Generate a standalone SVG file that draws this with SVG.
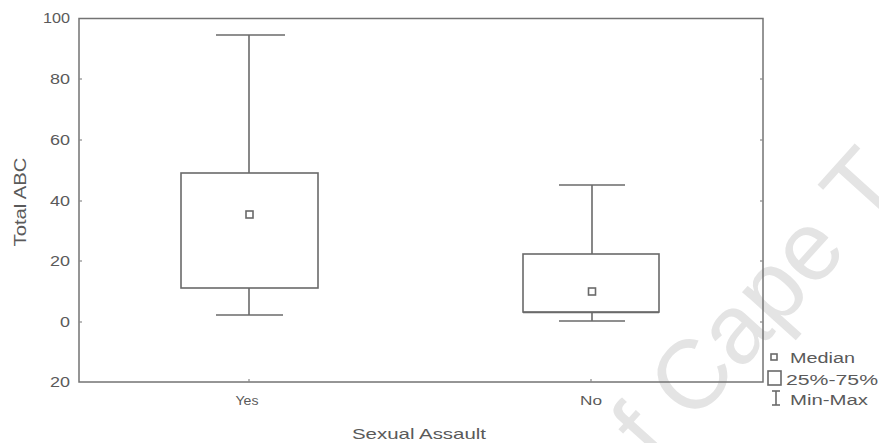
<svg xmlns="http://www.w3.org/2000/svg" width="879" height="443" viewBox="0 0 879 443">
<style>
.ln{stroke:#737373;stroke-width:1.5;fill:none}
.bx{stroke:#6a6a6a;stroke-width:1.6;fill:none}
.tk{stroke:#8a8a8a;stroke-width:1.2}
.t{font-family:"Liberation Sans",Arial,sans-serif;fill:#5a5a5a}
.wm{font-family:"Liberation Sans",Arial,sans-serif;fill:#e4e4e4;font-size:98px}
</style>
<rect width="879" height="443" fill="#ffffff"/>
<g id="watermark">
<text class="wm" transform="translate(656,465) rotate(-48)">f Cape T</text>
</g>
<g id="frame">
<rect class="ln" x="79" y="18.5" width="684" height="363.5"/>
</g>
<g id="axes">
<g class="tk">
<line x1="79" y1="79" x2="82" y2="79"/>
<line x1="79" y1="140" x2="82" y2="140"/>
<line x1="79" y1="201" x2="82" y2="201"/>
<line x1="79" y1="261" x2="82" y2="261"/>
<line x1="79" y1="322" x2="82" y2="322"/>
<line x1="763" y1="79" x2="760" y2="79"/>
<line x1="763" y1="140" x2="760" y2="140"/>
<line x1="763" y1="201" x2="760" y2="201"/>
<line x1="763" y1="261" x2="760" y2="261"/>
<line x1="763" y1="322" x2="760" y2="322"/>
<line x1="249" y1="382" x2="249" y2="379"/>
<line x1="591" y1="382" x2="591" y2="379"/>
</g>
<g class="t" font-size="14" text-anchor="end">
<text x="70" y="23" textLength="27" lengthAdjust="spacingAndGlyphs">100</text>
<text x="70" y="84" textLength="20" lengthAdjust="spacingAndGlyphs">80</text>
<text x="70" y="145" textLength="20" lengthAdjust="spacingAndGlyphs">60</text>
<text x="70" y="206" textLength="20" lengthAdjust="spacingAndGlyphs">40</text>
<text x="70" y="266" textLength="20" lengthAdjust="spacingAndGlyphs">20</text>
<text x="70" y="327" textLength="10" lengthAdjust="spacingAndGlyphs">0</text>
<text x="70" y="387" textLength="20" lengthAdjust="spacingAndGlyphs">20</text>
</g>
<g class="t" font-size="12" text-anchor="middle">
<text x="247" y="405" textLength="23" lengthAdjust="spacingAndGlyphs">Yes</text>
<text x="591" y="405" textLength="22" lengthAdjust="spacingAndGlyphs">No</text>
</g>
<text class="t" x="352" y="439" font-size="15" textLength="134" lengthAdjust="spacingAndGlyphs">Sexual Assault</text>
<text class="t" font-size="16" text-anchor="middle" transform="translate(26,202) rotate(-90)" textLength="89" lengthAdjust="spacingAndGlyphs">Total ABC</text>
</g>
<g id="box-yes">
<line class="bx" x1="249" y1="35" x2="249" y2="173"/>
<line class="bx" x1="216" y1="35" x2="285" y2="35"/>
<rect class="bx" x="181" y="173" width="137" height="115"/>
<line class="bx" x1="249" y1="288" x2="249" y2="315"/>
<line class="bx" x1="216" y1="315" x2="283" y2="315"/>
<rect class="bx" x="246" y="211" width="7" height="7" stroke-width="1.2"/>
</g>
<g id="box-no">
<line class="bx" x1="592" y1="185" x2="592" y2="254"/>
<line class="bx" x1="559" y1="185" x2="625" y2="185"/>
<rect class="bx" x="523" y="254" width="136" height="58"/>
<line class="bx" x1="523" y1="312.5" x2="659" y2="312.5" stroke-width="2"/>
<line class="bx" x1="592" y1="312" x2="592" y2="321"/>
<line class="bx" x1="559" y1="321" x2="625" y2="321"/>
<rect class="bx" x="588.5" y="288" width="7" height="7" stroke-width="1.2"/>
</g>
<g id="legend">
<rect class="bx" x="771" y="354" width="6" height="6" stroke-width="1.1"/>
<text class="t" x="790" y="363" font-size="14" textLength="65" lengthAdjust="spacingAndGlyphs">Median</text>
<rect class="bx" x="768" y="371" width="13" height="14" stroke-width="1.3"/>
<text class="t" x="786" y="385" font-size="14" textLength="92" lengthAdjust="spacingAndGlyphs">25%-75%</text>
<line class="bx" x1="776" y1="391" x2="776" y2="405" stroke-width="1.2"/>
<line class="bx" x1="772" y1="391" x2="780" y2="391" stroke-width="1.2"/>
<line class="bx" x1="772" y1="405" x2="780" y2="405" stroke-width="1.2"/>
<text class="t" x="790" y="405" font-size="14" textLength="78" lengthAdjust="spacingAndGlyphs">Min-Max</text>
</g>
</svg>
